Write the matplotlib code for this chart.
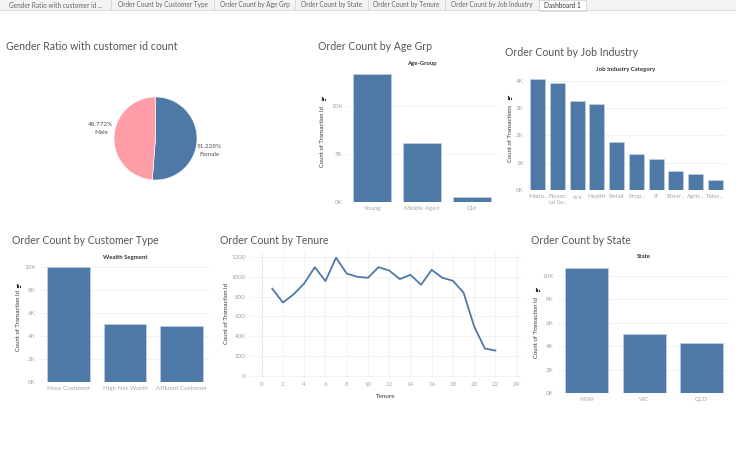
import matplotlib
matplotlib.use("Agg")
import matplotlib.pyplot as plt
from matplotlib.patches import Rectangle

plt.rcParams['font.family'] = ['Lato', 'DejaVu Sans']

# ---- data ----
tabs = ['Gender Ratio with customer id ...', 'Order Count by Customer Type', 'Order Count by Age Grp',
        'Order Count by State', 'Order Count by Tenure', 'Order Count by Job Industry', 'Dashboard 1']
tab_edges = [0, 111, 214, 295, 368, 445, 539, 586]

gender = ['Female', 'Male']
gender_pct = [51.228, 48.772]

age_groups = ['Young', 'Middle Aged', 'Old']
age_counts = [13350, 6150, 480]

job_labels = ['Manu..', 'Financ\nial Se..', 'n/a', 'Health', 'Retail', 'Prop..', 'IT', 'Enter..', 'Agric..', 'Telec..']
job_counts = [4056, 3923, 3270, 3145, 1764, 1322, 1128, 702, 571, 362]

wealth = ['Mass Customer', 'High Net Worth', 'Affluent Customer']
wealth_counts = [10000, 5030, 4870]

tenure = list(range(1, 23))
tenure_counts = [880, 740, 823, 933, 1097, 957, 1193, 1033, 1000, 990, 1097, 1063,
                 977, 1020, 920, 1070, 990, 960, 840, 500, 277, 257]

states = ['NSW', 'VIC', 'QLD']
state_counts = [10600, 5000, 4260]

W, H = 736, 454
BLUE = '#4E79A7'
PINK = '#FF9DA7'
TICK = '#a6a6a6'
TITLE = '#555555'
GRID = '#f0f0f0'

fig = plt.figure(figsize=(W / 100, H / 100), dpi=100)
fig.patch.set_facecolor('white')


def box(x0, y0, x1, y1):
    return [x0 / W, 1 - y1 / H, (x1 - x0) / W, (y1 - y0) / H]


# canvas axes in pixel coords for free text
cv = fig.add_axes([0, 0, 1, 1])
cv.set_xlim(0, W)
cv.set_ylim(H, 0)
cv.axis('off')
cv.patch.set_alpha(0)

# tab strip
cv.add_patch(Rectangle((0, 0), W, 10, facecolor='#f3f3f3', edgecolor='none'))
cv.plot([0, W], [10, 10], color='#d4d4d4', lw=0.6)
for i, name in enumerate(tabs):
    a, b = tab_edges[i], tab_edges[i + 1]
    if name == 'Dashboard 1':
        cv.add_patch(Rectangle((a, 0), b - a, 10.5, facecolor='white', edgecolor='#d4d4d4', lw=0.6))
        col = '#333333'
    else:
        cv.plot([b, b], [0, 10], color='#d4d4d4', lw=0.6)
        col = '#666666'
    cv.text((a + b) / 2, 5, name, fontsize=4.7, color=col, ha='center', va='center')

# titles
for x, y, t in [(6, 46, 'Gender Ratio with customer id count'), (318, 47, 'Order Count by Age Grp'),
                (505, 53, 'Order Count by Job Industry'), (12, 241, 'Order Count by Customer Type'),
                (220, 241, 'Order Count by Tenure'), (531, 241, 'Order Count by State')]:
    cv.text(x, y, t, fontsize=7.6, color=TITLE, ha='left', va='center')

# column headers
for x, y, t in [(422, 63, 'Age-Group'), (626, 70, 'Job Industry Category'),
                (125, 257, 'Wealth Segment'), (644, 257, 'State')]:
    cv.text(x, y, t, fontsize=4.3, color='#333333', ha='center', va='center', fontweight='bold')

# y axis labels
for x, y, t in [(323, 137, 'Count of Transaction Id'), (510, 134, 'Count of Transactions'),
                (18, 321, 'Count of Transaction Id'), (537, 328, 'Count of Transaction Id'),
                (226, 314, 'Count of Transaction Id')]:
    cv.text(x, y, t, fontsize=4.2, color='#333333', ha='center', va='center', rotation=90)


def sort_icon(x, y):
    for dx, h in [(-1.5, 3.5), (0, 2.5), (1.5, 1.2)]:
        cv.plot([x + dx, x + dx], [y, y - h], color='#333333', lw=0.8)


for x, y in [(323, 100), (509, 99), (18, 287), (537, 291)]:
    sort_icon(x, y)


def style_bar_axes(ax, ymax, step, labels):
    ax.set_ylim(0, ymax)
    ax.set_xlim(-0.5, len(labels) - 0.5)
    ax.set_yticks(list(range(0, int(ymax) + 1, step)))
    ax.set_yticklabels(['%dK' % (v // 1000) for v in range(0, int(ymax) + 1, step)])
    ax.set_xticks(range(len(labels)))
    ax.set_xticklabels(labels)
    ax.tick_params(length=0, labelsize=4.5, colors=TICK, pad=3)
    for s in ax.spines.values():
        s.set_visible(False)
    ax.grid(axis='y', color=GRID, lw=0.6)
    ax.set_axisbelow(True)
    ax.axhline(0, color='#e6e6e6', lw=0.6)


# pie
ax = fig.add_axes(box(114, 97, 197, 180))
ax.pie(gender_pct, colors=[BLUE, PINK], startangle=90, counterclock=False, radius=1,
       wedgeprops=dict(linewidth=0.4, edgecolor='white'))
ax.set_xlim(-1, 1)
ax.set_ylim(-1, 1)
cv.text(101, 128.5, '%.3f%%\n%s' % (gender_pct[1], gender[1]), fontsize=4.6, color=TITLE,
        ha='center', va='center', linespacing=1.6)
cv.text(209, 150.5, '%.3f%%\n%s' % (gender_pct[0], gender[0]), fontsize=4.6, color=TITLE,
        ha='center', va='center', linespacing=1.6)

# age group
ax = fig.add_axes(box(347, 68, 497, 202))
ax.bar(range(len(age_groups)), age_counts, width=0.76, color=BLUE, edgecolor='#c5d3e3', lw=0.5)
style_bar_axes(ax, 14000, 5000, age_groups)

# job industry
ax = fig.add_axes(box(528, 76, 725, 190))
ax.bar(range(len(job_labels)), job_counts, width=0.76, color=BLUE, edgecolor='#c5d3e3', lw=0.5)
style_bar_axes(ax, 4180, 1000, job_labels)

# wealth segment
ax = fig.add_axes(box(40, 263, 210, 382))
ax.bar(range(len(wealth)), wealth_counts, width=0.75, color=BLUE, edgecolor='#c5d3e3', lw=0.5)
style_bar_axes(ax, 10350, 2000, wealth)

# state
ax = fig.add_axes(box(558, 264, 730, 393))
ax.bar(range(len(states)), state_counts, width=0.75, color=BLUE, edgecolor='#c5d3e3', lw=0.5)
style_bar_axes(ax, 10980, 2000, states)

# tenure
ax = fig.add_axes(box(250, 252, 522, 378))
ax.plot(tenure, tenure_counts, color=BLUE, lw=1.3)
ax.set_xlim(-1.1, 24.5)
ax.set_ylim(-20, 1250)
ax.set_xticks(range(0, 25, 2))
ax.set_yticks(range(0, 1201, 200))
ax.tick_params(length=0, labelsize=4.5, colors=TICK, pad=3)
for s in ax.spines.values():
    s.set_visible(False)
ax.grid(color=GRID, lw=0.6)
ax.set_axisbelow(True)
ax.axvline(0, color='#dddddd', lw=0.6, ls=(0, (2, 2)))
ax.set_xlabel('Tenure', fontsize=4.5, color='#333333', labelpad=5)

fig.savefig('out.png', dpi=100, facecolor='white')
